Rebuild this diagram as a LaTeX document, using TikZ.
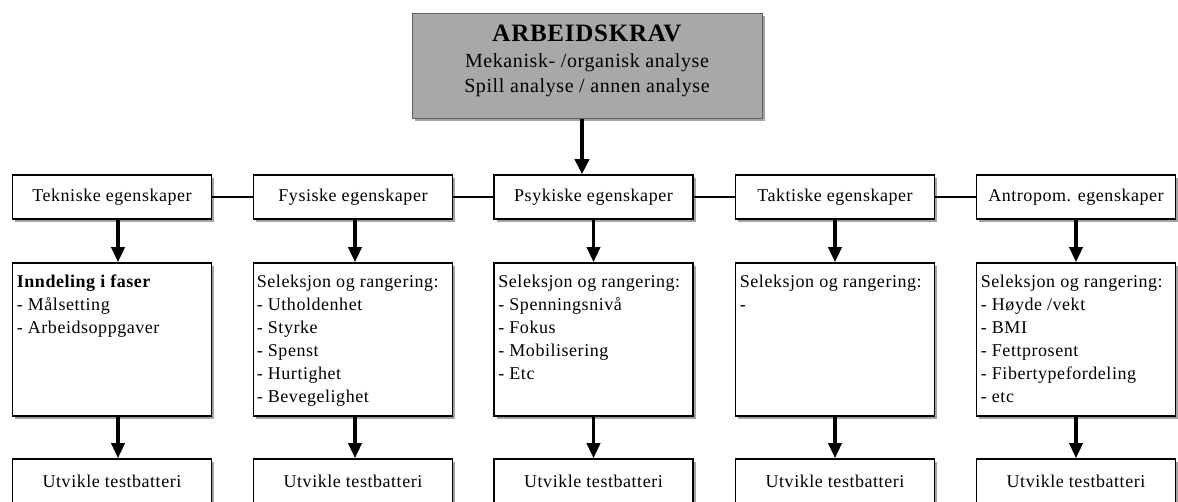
\documentclass[tikz,border=0pt]{standalone}
\usepackage{fontspec}
\setmainfont{Liberation Serif}[LetterSpace=3]
\usetikzlibrary{arrows.meta,shadows}
\definecolor{topgray}{HTML}{A8A8A8}
\definecolor{shade}{HTML}{8C8C8C}
\tikzset{
  box/.style={draw=black, line width=1.6pt, fill=white, minimum width=199pt, inner sep=0pt,
    drop shadow={shadow xshift=2.5pt, shadow yshift=-2.5pt, fill=shade, opacity=0.8},
    font=\fontsize{18}{23}\selectfont},
  hbox/.style={box, minimum height=44pt},
  listbox/.style={box, minimum height=153pt},
  listtxt/.style={anchor=north west, inner sep=0pt, align=left, font=\fontsize{18}{23}\selectfont},
  topbox/.style={draw=gray!75!black, line width=1pt, fill=topgray, minimum width=350pt, minimum height=105pt,
    inner sep=0pt, drop shadow={shadow xshift=2.5pt, shadow yshift=-2.5pt, fill=shade, opacity=0.8}},
  toptxt/.style={inner sep=0pt, align=center, font=\fontsize{20}{25}\selectfont},
  link/.style={line width=1.3pt},
  arr/.style={line width=3.5pt, -{Triangle[width=13pt,length=15pt]}},
  toparr/.style={line width=4.5pt, -{Triangle[width=14pt,length=15pt]}}
}
\begin{document}
\begin{tikzpicture}[x=1pt,y=-1pt]
\useasboundingbox (0,0) rectangle (1178,501);
\clip (0,0) rectangle (1178,501);
\fill[white] (0,0) rectangle (1178,501);

% top box
\node[topbox] (top) at (587,65.5) {};
\node[toptxt] (toptext) at ([yshift=4.5pt]top.center)
  {{\fontsize{25}{25}\selectfont\bfseries ARBEIDSKRAV}\\[1pt]
   Mekanisk- /organisk analyse\\
   Spill analyse / annen analyse};

% row 1
\node[hbox] (t1) at (112,197) {Tekniske egenskaper};
\node[hbox] (f1) at (353,197) {Fysiske egenskaper};
\node[hbox] (p1) at (593.5,197) {Psykiske egenskaper};
\node[hbox] (k1) at (835,197) {Taktiske egenskaper};
\node[hbox] (a1) at (1076,197) {Antropom. egenskaper};

% row 2
\node[listbox] (t2) at (112,339.5) {};
\node[listbox] (f2) at (353,339.5) {};
\node[listbox] (p2) at (593.5,339.5) {};
\node[listbox] (k2) at (835,339.5) {};
\node[listbox] (a2) at (1076,339.5) {};

\node[listtxt] (t2t) at ([xshift=5pt,yshift=-12.5pt]t2.north west)
  {\textbf{Inndeling i faser}\\- Målsetting\\- Arbeidsoppgaver};
\node[listtxt] (f2t) at ([xshift=4pt,yshift=-12.5pt]f2.north west)
  {Seleksjon og rangering:\\- Utholdenhet\\- Styrke\\- Spenst\\- Hurtighet\\- Bevegelighet};
\node[listtxt] (p2t) at ([xshift=5pt,yshift=-12.5pt]p2.north west)
  {Seleksjon og rangering:\\- Spenningsnivå\\- Fokus\\- Mobilisering\\- Etc};
\node[listtxt] (k2t) at ([xshift=5pt,yshift=-12.5pt]k2.north west)
  {Seleksjon og rangering:\\-};
\node[listtxt] (a2t) at ([xshift=5pt,yshift=-12.5pt]a2.north west)
  {Seleksjon og rangering:\\- Høyde /vekt\\- BMI\\- Fettprosent\\- Fibertypefordeling\\- etc};

% row 3
\node[hbox] (t3) at (112,481) {Utvikle testbatteri};
\node[hbox] (f3) at (353,481) {Utvikle testbatteri};
\node[hbox] (p3) at (593.5,481) {Utvikle testbatteri};
\node[hbox] (k3) at (835,481) {Utvikle testbatteri};
\node[hbox] (a3) at (1076,481) {Utvikle testbatteri};

% links
\draw[link] (t1.east) -- (f1.west);
\draw[link] (f1.east) -- (p1.west);
\draw[link] (p1.east) -- (k1.west);
\draw[link] (k1.east) -- (a1.west);

% arrows
\draw[toparr] ([xshift=-5pt]top.south) -- ([xshift=-5pt]top.south |- p1.north);
\draw[arr] ([xshift=6pt]t1.south) -- ([xshift=6pt]t2.north);
\draw[arr] ([xshift=2pt]f1.south) -- ([xshift=2pt]f2.north);
\draw[arr] (p1.south) -- (p2.north);
\draw[arr] (k1.south) -- (k2.north);
\draw[arr] (a1.south) -- (a2.north);
\draw[arr] ([xshift=6pt]t2.south) -- ([xshift=6pt]t3.north);
\draw[arr] ([xshift=2pt]f2.south) -- ([xshift=2pt]f3.north);
\draw[arr] (p2.south) -- (p3.north);
\draw[arr] (k2.south) -- (k3.north);
\draw[arr] (a2.south) -- (a3.north);
\end{tikzpicture}
\end{document}
